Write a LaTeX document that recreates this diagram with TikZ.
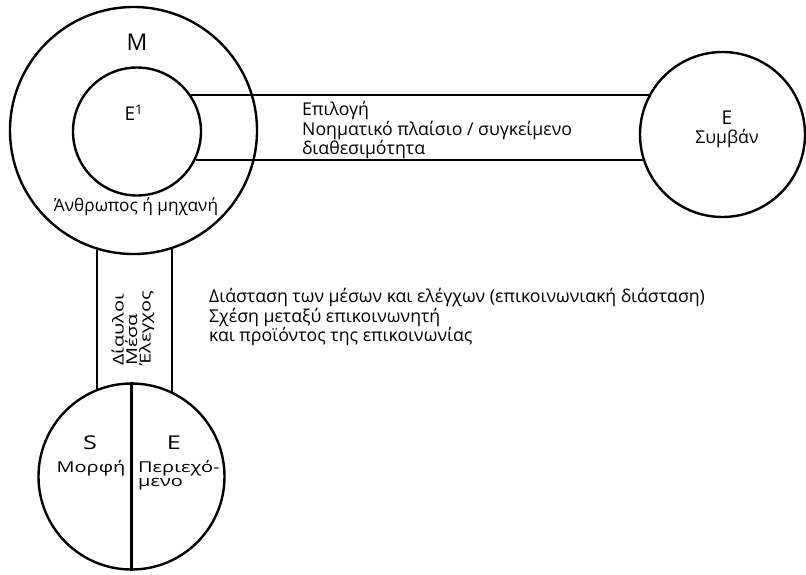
\documentclass[tikz,border=0pt]{standalone}
\usepackage{fontspec}
\setmainfont{Open Sans}
\usetikzlibrary{positioning,calc}

\newcommand{\wide}[1]{\scalebox{1.33}[1]{#1}}

\tikzset{
  ring/.style={circle, draw, line width=2.4pt, inner sep=0pt, fill=white},
  letter/.style={inner sep=0pt, font=\fontsize{19}{19}\selectfont},
  txt/.style={inner sep=0pt, align=left, font=\fontsize{17.7}{17}\selectfont},
  small/.style={inner sep=0pt, align=left, font=\fontsize{15}{13.5}\selectfont},
}

\begin{document}
\begin{tikzpicture}[x=1pt, y=-1pt, line width=2.4pt]
    \useasboundingbox (0,0) rectangle (806,574);

    % Circles (centres first)
    \node[ring, fill=none, minimum size=247pt] (human) at (133.5,130.5) {};
    \node[ring, minimum size=128pt] (self) at (137,131.5) {};
    \coordinate (evc) at (722.5,134.5);
    \coordinate (botc) at (131.5,476.5);

    % Horizontal band
    \draw (self.34.8) -- (self.34.8 -| evc);
    \draw (self.334.2) -- (self.334.2 -| evc);

    % Vertical band
    \draw (human.253.3) -- (human.253.3 |- botc);
    \draw (human.288.7) -- (human.288.7 |- botc);

    \node[ring, minimum size=165pt] (event) at (evc) {};
    \node[ring, minimum size=186pt] (product) at (botc) {};
    \draw (product.north) -- (product.south);

    % Labels
    \node[letter, font=\fontsize{23}{23}\selectfont] (m) at (137,42) {M};
    \node[letter] (e1) at (134,113) {E\textsuperscript{1}};
    \node[txt, font=\fontsize{17.2}{17}\selectfont] (hm) at (136,207) {Άνθρωπος ή μηχανή};

    \node[letter] (e) at (727,118) {E};
    \node[txt] (sym) at (727,138) {Συμβάν};

    \node[txt, anchor=west] (choice) at (301,130)
        {Επιλογή\\Νοηματικό πλαίσιο / συγκείμενο\\διαθεσιμότητα};

    \node[small, anchor=west, rotate=90] (media) at (133,367)
        {\wide{Δίαυλοι}\\\wide{Μέσα}\\\wide{Έλεγχος}};

    \node[txt, font=\fontsize{17.7}{16}\selectfont, anchor=west] (dim) at (208,317)
        {Διάσταση των μέσων και ελέγχων (επικοινωνιακή διάσταση)\\Σχέση μεταξύ επικοινωνητή\\και προϊόντος της επικοινωνίας};

    \node[letter] (s) at (90,443) {\wide{S}};
    \node[small] (form) at (91,468) {\wide{Μορφή}};
    \node[letter] (e2) at (174,443) {\wide{E}};
    \node[small, anchor=west] (content) at (137,475) {\wide{Περιεχό-}\\\wide{μενο}};
\end{tikzpicture}
\end{document}
